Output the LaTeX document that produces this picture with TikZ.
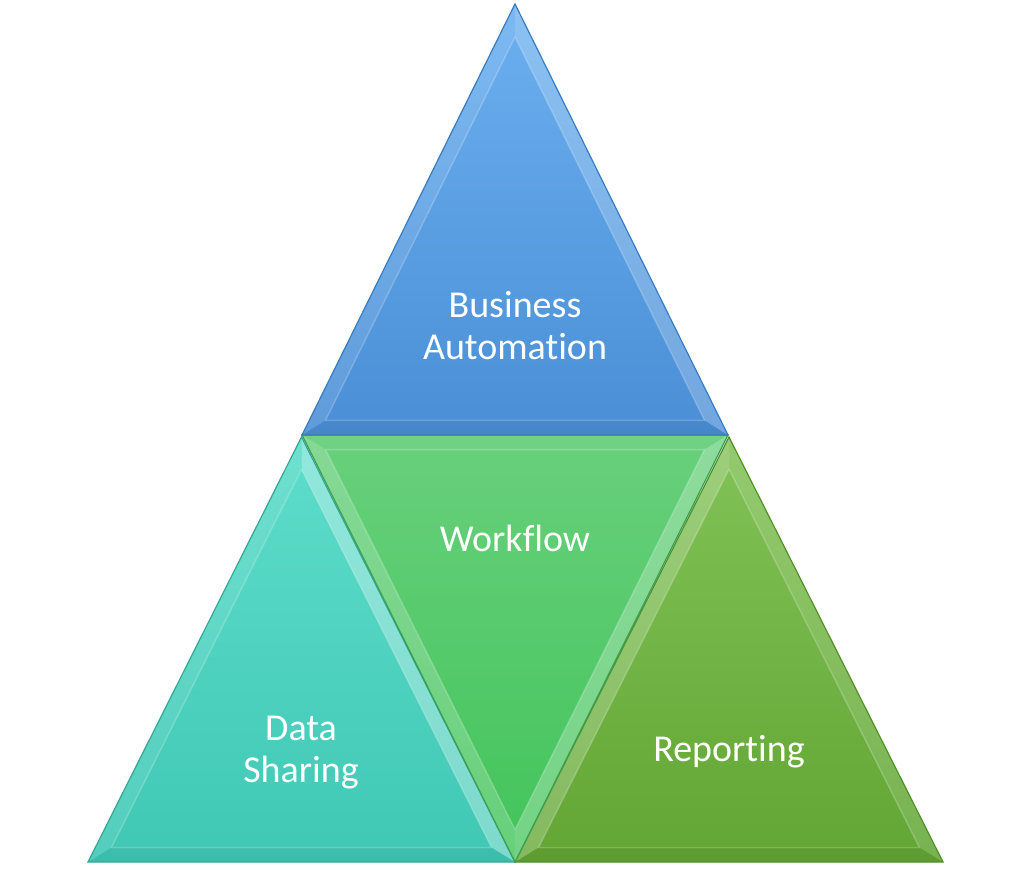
\documentclass[tikz,border=0pt]{standalone}
\usepackage{fontspec}
\setmainfont{Carlito}[Ligatures=NoCommon]
\usetikzlibrary{calc}
\definecolor{blueT}{HTML}{6CB0F0}
\definecolor{blueB}{HTML}{4A8ED6}
\definecolor{blueE}{HTML}{3A7CC0}
\definecolor{tealT}{HTML}{5EDDCB}
\definecolor{tealB}{HTML}{40C8B5}
\definecolor{tealE}{HTML}{34A896}
\definecolor{grnT}{HTML}{68D07C}
\definecolor{grnB}{HTML}{42C45A}
\definecolor{grnE}{HTML}{38A04E}
\definecolor{rptT}{HTML}{82C257}
\definecolor{rptB}{HTML}{62A634}
\definecolor{rptE}{HTML}{52902A}
\newcommand\bevtri[1]{%
  \coordinate (#1-ai) at ($(#1-i)!0.89!(#1-a)$);
  \coordinate (#1-bi) at ($(#1-i)!0.89!(#1-b)$);
  \coordinate (#1-ci) at ($(#1-i)!0.89!(#1-c)$);
  \shade[#1-shade] (#1-a)--(#1-b)--(#1-c)--cycle;
  \fill[#1-ab] (#1-a)--(#1-b)--(#1-bi)--(#1-ai)--cycle;
  \fill[#1-ac] (#1-a)--(#1-c)--(#1-ci)--(#1-ai)--cycle;
  \fill[#1-bc] (#1-b)--(#1-c)--(#1-ci)--(#1-bi)--cycle;
  \draw[white,opacity=.2,line width=1.5pt,line join=round] (#1-ai)--(#1-bi)--(#1-ci)--cycle;
  \draw[#1-edge] (#1-a)--(#1-b)--(#1-c)--cycle;
}
\begin{document}
\begin{tikzpicture}[x=1pt,y=-1pt,
  lbl/.style={text=white,align=center,font=\fontsize{38}{42}\selectfont},
  blu-shade/.style={top color=blueT,bottom color=blueB},
  blu-ab/.style={white,opacity=.12},
  blu-ac/.style={white,opacity=.22},
  blu-bc/.style={black,opacity=.05},
  blu-edge/.style={draw=blueE,line width=1.2pt,line join=miter},
  tea-shade/.style={top color=tealT,bottom color=tealB},
  tea-ab/.style={white,opacity=.1},
  tea-ac/.style={white,opacity=.32},
  tea-bc/.style={black,opacity=.05},
  tea-edge/.style={draw=tealE,line width=1.2pt},
  grn-shade/.style={top color=grnT,bottom color=grnB},
  grn-ab/.style={white,opacity=.06},
  grn-ac/.style={white,opacity=.2},
  grn-bc/.style={white,opacity=.26},
  grn-edge/.style={draw=grnE,line width=1.2pt},
  rpt-shade/.style={top color=rptT,bottom color=rptB},
  rpt-ab/.style={white,opacity=.22},
  rpt-ac/.style={white,opacity=.14},
  rpt-bc/.style={black,opacity=.06},
  rpt-edge/.style={draw=rptE,line width=1.2pt},
]
\fill[white] (0,0) rectangle (1031,868);
\useasboundingbox (0,0) rectangle (1031,868);
% teal (bottom left)
\coordinate (tea-a) at (301.5,437);
\coordinate (tea-b) at (88,862);
\coordinate (tea-c) at (515,862);
\coordinate (tea-i) at (301.5,730.3);
\bevtri{tea}
% right green
\coordinate (rpt-a) at (729,437);
\coordinate (rpt-b) at (515,862);
\coordinate (rpt-c) at (943,862);
\coordinate (rpt-i) at (729,730.2);
\bevtri{rpt}
% middle inverted
\coordinate (grn-a) at (302,435);
\coordinate (grn-b) at (728,435);
\coordinate (grn-c) at (515,862);
\coordinate (grn-i) at (515,566.8);
\bevtri{grn}
% top blue
\coordinate (blu-a) at (515,4);
\coordinate (blu-b) at (302,435);
\coordinate (blu-c) at (728,435);
\coordinate (blu-i) at (515,302.7);
\bevtri{blu}
\node[lbl] (ba) at (515,326) {Business\\Automation};
\node[lbl] (wf) at (515,538) {Workflow};
\node[lbl] (ds) at (301,753) {Data\\Sharing};
\node[lbl] (rp) at (729,752) {Reporting};
\end{tikzpicture}
\end{document}
